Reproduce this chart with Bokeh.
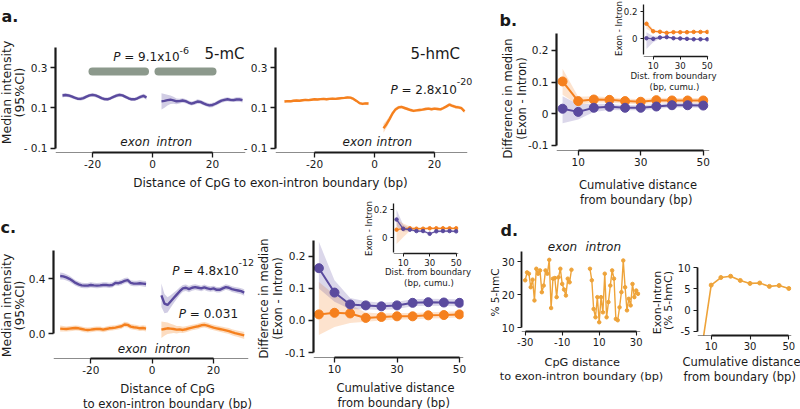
import numpy as np
from bokeh.plotting import figure
from bokeh.models import Range1d, FixedTicker, Label, Span, GridBox
from bokeh.embed import file_html
from bokeh.resources import INLINE

W, H = 800, 409
FONT = "DejaVu Sans"
PURPLE = "#5a4a9e"
ORANGE = "#f5801e"
GOLD = "#eea339"
GRAY = "#8c998c"
INK = "#1a1a1a"

# ---------------- data ----------------
# panel a: median intensity vs distance of CpG to exon-intron boundary (bp)
A_EXON_X = list(range(-30, -1))
A_INTRON_X = list(range(3, 31))
A_MC_EXON = [0.162, 0.164, 0.162, 0.157, 0.151, 0.146, 0.145, 0.149, 0.156, 0.162,
             0.165, 0.162, 0.156, 0.149, 0.144, 0.143, 0.148, 0.155, 0.161, 0.165,
             0.162, 0.155, 0.148, 0.143, 0.143, 0.148, 0.155, 0.160, 0.152]
A_MC_EXON_CI = [0.010, 0.009, 0.009, 0.009, 0.008, 0.008, 0.009, 0.009, 0.008, 0.008,
                0.009, 0.009, 0.008, 0.008, 0.009, 0.009, 0.008, 0.008, 0.009, 0.009,
                0.008, 0.008, 0.009, 0.009, 0.008, 0.009, 0.009, 0.010, 0.011]
A_MC_INTRON = [0.133, 0.135, 0.139, 0.141, 0.138, 0.133, 0.134, 0.137, 0.134, 0.127,
               0.122, 0.126, 0.132, 0.130, 0.123, 0.117, 0.113, 0.115, 0.121, 0.129,
               0.136, 0.140, 0.143, 0.140, 0.139, 0.142, 0.142, 0.139]
A_MC_INTRON_CI = [0.040, 0.034, 0.027, 0.021, 0.017, 0.014, 0.012, 0.011, 0.011, 0.010,
                  0.010, 0.010, 0.011, 0.010, 0.010, 0.010, 0.010, 0.011, 0.010, 0.010,
                  0.010, 0.011, 0.010, 0.010, 0.010, 0.011, 0.011, 0.012]
A_HMC_EXON = [0.132, 0.134, 0.133, 0.136, 0.137, 0.136, 0.138, 0.140, 0.139, 0.141,
              0.143, 0.142, 0.144, 0.145, 0.143, 0.145, 0.146, 0.145, 0.147, 0.149,
              0.150, 0.152, 0.151, 0.145, 0.135, 0.124, 0.120, 0.123, 0.122]
A_HMC_EXON_CI = [0.007, 0.006, 0.006, 0.006, 0.006, 0.006, 0.006, 0.006, 0.006, 0.006,
                 0.006, 0.006, 0.006, 0.006, 0.006, 0.006, 0.006, 0.006, 0.006, 0.006,
                 0.006, 0.006, 0.006, 0.006, 0.006, 0.007, 0.007, 0.007, 0.008]
A_HMC_INTRON = [0.000, 0.020, 0.045, 0.073, 0.093, 0.103, 0.105, 0.100, 0.095, 0.090,
                0.086, 0.088, 0.090, 0.092, 0.095, 0.097, 0.094, 0.097, 0.095, 0.093,
                0.100, 0.108, 0.117, 0.110, 0.105, 0.103, 0.099, 0.083]
A_HMC_INTRON_CI = [0.022, 0.018, 0.014, 0.011, 0.009, 0.008, 0.007, 0.007, 0.007, 0.007,
                   0.007, 0.007, 0.007, 0.007, 0.007, 0.007, 0.007, 0.007, 0.007, 0.007,
                   0.007, 0.007, 0.008, 0.008, 0.008, 0.008, 0.008, 0.009]
BAR_START = [-20, 2]
BAR_END = [-2.5, 20]
BAR_Y = [0.28, 0.28]

# panel b / c / d cumulative distance (bp)
CUM_X = [5, 10, 15, 20, 25, 30, 35, 40, 45, 50]
B_HMC = [0.102, 0.040, 0.045, 0.044, 0.040, 0.038, 0.043, 0.042, 0.042, 0.042]
B_HMC_LO = [0.060, 0.028, 0.036, 0.036, 0.032, 0.030, 0.035, 0.034, 0.034, 0.034]
B_HMC_HI = [0.142, 0.054, 0.055, 0.052, 0.048, 0.046, 0.051, 0.050, 0.050, 0.050]
B_MC = [0.016, 0.006, 0.019, 0.022, 0.019, 0.019, 0.023, 0.027, 0.027, 0.026]
B_MC_LO = [-0.030, -0.018, 0.006, 0.012, 0.011, 0.011, 0.015, 0.020, 0.020, 0.019]
B_MC_HI = [0.055, 0.030, 0.032, 0.031, 0.027, 0.027, 0.031, 0.034, 0.034, 0.033]

BI_HMC = [0.108, 0.052, 0.048, 0.040, 0.045, 0.045, 0.045, 0.047, 0.047, 0.047]
BI_HMC_LO = [0.070, 0.040, 0.040, 0.034, 0.039, 0.039, 0.039, 0.041, 0.041, 0.041]
BI_HMC_HI = [0.135, 0.065, 0.056, 0.047, 0.051, 0.051, 0.051, 0.053, 0.053, 0.053]
BI_MC = [0.000, -0.005, 0.005, 0.008, 0.000, -0.002, -0.005, -0.008, -0.008, -0.008]
BI_MC_LO = [-0.080, -0.030, -0.005, 0.000, -0.007, -0.009, -0.011, -0.014, -0.014, -0.014]
BI_MC_HI = [0.045, 0.015, 0.013, 0.015, 0.007, 0.005, 0.001, -0.002, -0.002, -0.002]

C1_MC_EXON = [0.420, 0.418, 0.410, 0.400, 0.385, 0.370, 0.360, 0.352, 0.350, 0.350,
              0.355, 0.352, 0.350, 0.352, 0.355, 0.355, 0.352, 0.355, 0.370, 0.368,
              0.375, 0.385, 0.390, 0.370, 0.365, 0.365, 0.368, 0.365, 0.362]
C1_MC_EXON_CI = [0.025, 0.024, 0.023, 0.022, 0.021, 0.020, 0.020, 0.019, 0.019, 0.019,
                 0.019, 0.019, 0.019, 0.019, 0.019, 0.019, 0.019, 0.019, 0.019, 0.019,
                 0.020, 0.020, 0.020, 0.020, 0.020, 0.020, 0.021, 0.021, 0.022]
C1_MC_INTRON = [0.280, 0.220, 0.210, 0.235, 0.260, 0.285, 0.310, 0.330, 0.335, 0.325,
                0.335, 0.340, 0.335, 0.330, 0.338, 0.330, 0.325, 0.330, 0.320, 0.320,
                0.330, 0.340, 0.335, 0.325, 0.320, 0.315, 0.310, 0.300]
C1_MC_INTRON_CI = [0.085, 0.070, 0.055, 0.045, 0.038, 0.032, 0.028, 0.025, 0.023, 0.022,
                   0.021, 0.021, 0.020, 0.020, 0.020, 0.020, 0.020, 0.020, 0.020, 0.020,
                   0.020, 0.020, 0.020, 0.021, 0.021, 0.022, 0.022, 0.024]
C1_HMC_EXON = [0.038, 0.036, 0.035, 0.038, 0.040, 0.042, 0.040, 0.035, 0.030, 0.028,
               0.030, 0.033, 0.036, 0.035, 0.030, 0.035, 0.040, 0.042, 0.045, 0.050,
               0.055, 0.068, 0.065, 0.052, 0.048, 0.045, 0.040, 0.042, 0.038]
C1_HMC_EXON_CI = [0.022, 0.020, 0.019, 0.019, 0.019, 0.018, 0.018, 0.018, 0.018, 0.018,
                  0.018, 0.018, 0.018, 0.018, 0.018, 0.018, 0.018, 0.018, 0.018, 0.018,
                  0.018, 0.019, 0.019, 0.019, 0.019, 0.019, 0.019, 0.020, 0.021]
C1_HMC_INTRON = [0.030, 0.035, 0.040, 0.038, 0.035, 0.030, 0.032, 0.028, 0.033, 0.040,
                 0.045, 0.050, 0.055, 0.062, 0.065, 0.060, 0.052, 0.045, 0.040, 0.035,
                 0.030, 0.025, 0.020, 0.012, 0.005, 0.000, -0.006, -0.012]
C1_HMC_INTRON_CI = [0.060, 0.050, 0.042, 0.035, 0.030, 0.027, 0.025, 0.023, 0.022, 0.021,
                    0.020, 0.020, 0.020, 0.020, 0.020, 0.020, 0.020, 0.020, 0.020, 0.020,
                    0.021, 0.021, 0.022, 0.022, 0.022, 0.023, 0.024, 0.025]

C2_MC = [0.163, 0.087, 0.050, 0.047, 0.044, 0.047, 0.055, 0.057, 0.056, 0.055]
C2_MC_LO = [0.100, 0.058, 0.035, 0.035, 0.033, 0.036, 0.044, 0.046, 0.045, 0.044]
C2_MC_HI = [0.245, 0.125, 0.070, 0.060, 0.055, 0.058, 0.066, 0.068, 0.067, 0.066]
C2_HMC = [0.019, 0.024, 0.022, 0.008, 0.011, 0.013, 0.013, 0.016, 0.017, 0.019]
C2_HMC_LO = [-0.045, -0.020, -0.008, -0.004, 0.000, 0.003, 0.003, 0.006, 0.007, 0.009]
C2_HMC_HI = [0.120, 0.080, 0.050, 0.025, 0.022, 0.023, 0.023, 0.026, 0.027, 0.029]

CI_MC = [0.129, 0.061, 0.055, 0.045, 0.045, 0.025, 0.043, 0.045, 0.045, 0.043]
CI_MC_LO = [0.080, 0.040, 0.045, 0.037, 0.037, 0.017, 0.035, 0.037, 0.037, 0.035]
CI_MC_HI = [0.200, 0.090, 0.065, 0.053, 0.053, 0.033, 0.051, 0.053, 0.053, 0.051]
CI_HMC = [0.055, 0.062, 0.065, 0.062, 0.062, 0.065, 0.065, 0.065, 0.065, 0.065]
CI_HMC_LO = [-0.050, 0.000, 0.045, 0.050, 0.052, 0.055, 0.055, 0.055, 0.055, 0.055]
CI_HMC_HI = [0.130, 0.100, 0.080, 0.072, 0.072, 0.075, 0.075, 0.075, 0.075, 0.075]

D1_EXON_X = list(range(-30, -4))
D1_EXON = [24.3, 26.7, 26.3, 22.2, 24.5, 18.2, 27.8, 26.3, 27.3, 20.7, 22.7, 27.3, 26.3,
           30.5, 15.9, 24.8, 25.0, 19.2, 25.2, 27.8, 23.2, 21.5, 19.7, 24.8, 23.7, 27.5]
D1_INTRON_X = list(range(5, 32))
D1_INTRON = [27.8, 24.3, 15.6, 13.1, 19.2, 11.6, 19.2, 14.6, 26.3, 13.1, 17.7, 22.7, 27.3,
             24.8, 12.6, 12.2, 16.1, 20.7, 30.3, 22.2, 15.2, 18.7, 16.7, 23.2, 19.2, 21.2, 20.2]
D2 = [-9.5, 5.9, 7.7, 8.0, 7.0, 6.3, 6.4, 5.6, 5.8, 5.1]


# ---------------- helpers ----------------
def panel(frame, xr, yr, xticks, yticks, ylabels, xb, yb,
          tsize="10.5px", aw=2.2, tout=5, tw=1.3, thin=True):
    L, R, T, B = frame
    p = figure(width=W, height=H, output_backend="svg", toolbar_location=None, title=None,
               x_range=Range1d(*xr), y_range=Range1d(*yr),
               min_border_left=L, min_border_right=W - R,
               min_border_top=T, min_border_bottom=H - B)
    p.frame_align = False
    p.background_fill_color = None
    p.border_fill_color = None
    p.outline_line_color = None
    p.xgrid.visible = False
    p.ygrid.visible = False
    xa, ya = p.xaxis[0], p.yaxis[0]
    xa.ticker = FixedTicker(ticks=list(xticks))
    ya.ticker = FixedTicker(ticks=list(yticks))
    xa.major_label_overrides = {t: str(t) for t in xticks}
    ya.major_label_overrides = dict(zip(yticks, ylabels))
    for ax in (xa, ya):
        ax.axis_line_width = aw
        ax.axis_line_color = INK
        ax.major_tick_line_width = tw
        ax.major_tick_line_color = INK
        ax.major_tick_out = tout
        ax.major_tick_in = 0
        ax.minor_tick_line_color = None
        ax.major_label_text_font = FONT
        ax.major_label_text_font_size = tsize
        ax.major_label_text_color = INK
    xa.major_label_standoff = 2
    ya.major_label_standoff = 3
    xa.bounds = xb
    ya.bounds = yb
    if thin:
        p.add_layout(Span(location=yr[0], dimension="width", line_color=INK, line_width=1))
    return p


def profile(p, x, y, ci, color, lw=2.4, alpha=0.28):
    y = np.asarray(y, dtype=float)
    ci = np.asarray(ci, dtype=float)
    p.varea(x=x, y1=y - ci, y2=y + ci, fill_color=color, fill_alpha=alpha)
    p.line(x=x, y=y, line_color=color, line_width=lw)


def cum_band(p, lo, hi, color, alpha=0.22):
    p.varea(x=CUM_X, y1=lo, y2=hi, fill_color=color, fill_alpha=alpha)


def cum_line(p, y, color, lw, size):
    p.line(x=CUM_X, y=y, line_color=color, line_width=lw)
    p.scatter(x=CUM_X, y=y, size=size, fill_color=color, line_color=color)


E = 0.0005
# ---------------- panel a ----------------
a1 = panel((55, 245, 47, 152), (-32.333, 31.0), (-0.12, 0.399),
           [-20, 0, 20], [0.3, 0.1, -0.1], ["0.3", "0.1", "- 0.1"],
           (-20.05, 20.05), (-0.1 - E, 0.399))
a1.segment(x0=BAR_START, y0=BAR_Y, x1=BAR_END, y1=BAR_Y, line_color=GRAY,
           line_width=8, line_cap="round")
profile(a1, A_EXON_X, A_MC_EXON, A_MC_EXON_CI, PURPLE)
profile(a1, A_INTRON_X, A_MC_INTRON, A_MC_INTRON_CI, PURPLE)

a2 = panel((275, 467, 47, 152), (-33.0, 31.0), (-0.12, 0.399),
           [-20, 0, 20], [0.3, 0.1, -0.1], ["0.3", "0.1", "- 0.1"],
           (-20.05, 20.05), (-0.1 - E, 0.399))
profile(a2, A_EXON_X, A_HMC_EXON, A_HMC_EXON_CI, ORANGE)
profile(a2, A_INTRON_X, A_HMC_INTRON, A_HMC_INTRON_CI, ORANGE)

# ---------------- panel b ----------------
b = panel((556, 709, 33, 150), (3.06, 52.0), (-0.1158, 0.2533),
          [10, 30, 50], [0.2, 0.1, 0, -0.1], ["0.2", "0.1", "0", "-0.1"],
          (9.95, 50.05), (-0.1 - E, 0.2533))
cum_band(b, B_HMC_LO, B_HMC_HI, ORANGE)
cum_band(b, B_MC_LO, B_MC_HI, PURPLE)
cum_line(b, B_HMC, ORANGE, 2, 9)
cum_line(b, B_MC, PURPLE, 2, 9)

bi = panel((643, 708, 4, 56), (2.81, 50.96), (-0.137, 0.2524),
           [10, 30, 50], [0.2, 0], ["0.2", "0"],
           (9.95, 50.05), (-0.12, 0.2524), tsize="8.6px", aw=1.3, tout=3, tw=1.0)
cum_band(bi, BI_HMC_LO, BI_HMC_HI, ORANGE)
cum_band(bi, BI_MC_LO, BI_MC_HI, PURPLE)
cum_line(bi, BI_HMC, ORANGE, 1.2, 3.5)
cum_line(bi, BI_MC, PURPLE, 1.2, 3.5)

# ---------------- panel c ----------------
c1 = panel((53, 248, 250, 358), (-32.18, 31.40), (-0.1796, 0.6058),
           [-20, 0, 20], [0.4, 0], ["0.4", "0.0"],
           (-20.05, 20.05), (0 - E, 0.6058))
profile(c1, A_EXON_X, C1_MC_EXON, C1_MC_EXON_CI, PURPLE)
profile(c1, A_INTRON_X, C1_MC_INTRON, C1_MC_INTRON_CI, PURPLE)
profile(c1, A_EXON_X, C1_HMC_EXON, C1_HMC_EXON_CI, ORANGE)
profile(c1, A_INTRON_X, C1_HMC_INTRON, C1_HMC_INTRON_CI, ORANGE)

c2 = panel((313, 463, 240, 357), (3.28, 51.28), (-0.1153, 0.2492),
           [10, 30, 50], [0.2, 0.1, 0, -0.1], ["0.2", "0.1", "0.0", "-0.1"],
           (9.95, 50.05), (-0.1 - E, 0.2492))
cum_band(c2, C2_HMC_LO, C2_HMC_HI, ORANGE)
cum_band(c2, C2_MC_LO, C2_MC_HI, PURPLE)
cum_line(c2, C2_HMC, ORANGE, 2, 9)
cum_line(c2, C2_MC, PURPLE, 2, 9)

ci = panel((393, 458, 203, 253), (2.68, 51.74), (-0.119, 0.246),
           [10, 30, 50], [0.2, 0], ["0.2", "0"],
           (9.95, 50.05), (-0.11, 0.246), tsize="8.6px", aw=1.3, tout=3, tw=1.0)
cum_band(ci, CI_HMC_LO, CI_HMC_HI, ORANGE)
cum_band(ci, CI_MC_LO, CI_MC_HI, PURPLE)
cum_line(ci, CI_HMC, ORANGE, 1.2, 3.5)
cum_line(ci, CI_MC, PURPLE, 1.2, 3.5)

# ---------------- panel d ----------------
d1 = panel((521, 640, 251, 331), (-32.0, 32.32), (8.79, 33.03),
           [-30, -10, 10, 30], [10, 20, 30], ["10", "20", "30"],
           (-30.05, 30.05), (10 - 0.02, 33.03), tsize="10px", aw=1.8, tout=4, tw=1.1)
for xs, ys in ((D1_EXON_X, D1_EXON), (D1_INTRON_X, D1_INTRON)):
    d1.line(x=xs, y=ys, line_color=GOLD, line_width=1.4)
    d1.scatter(x=xs, y=ys, size=3.5, fill_color=GOLD, line_color=GOLD)

d2 = panel((697, 791, 265, 335), (2.94, 51.39), (-6.02, 10.54),
           [10, 30, 50], [10, 5, 0, -5], ["10", "5", "0", "-5"],
           (9.95, 50.05), (-5 - 0.02, 10 + 0.02), tsize="10px", aw=1.8, tout=4, tw=1.1)
d2.line(x=CUM_X, y=D2, line_color=GOLD, line_width=1.6)
d2.scatter(x=CUM_X, y=D2, size=4, fill_color=GOLD, line_color=GOLD)

# ---------------- text layer ----------------
ann = figure(width=W, height=H, output_backend="svg", toolbar_location=None, title=None,
             x_range=Range1d(0, W), y_range=Range1d(H, 0),
             x_axis_location=None, y_axis_location=None, min_border=0)
ann.frame_align = False
ann.background_fill_color = None
ann.border_fill_color = None
ann.outline_line_color = None
ann.xgrid.visible = False
ann.ygrid.visible = False


def txt(x, y, s, size="12px", align="center", base="middle", angle=0.0, style="normal"):
    ann.add_layout(Label(x=x, y=y, text=s, text_font=FONT, text_font_size=size,
                         text_align=align, text_baseline=base, angle=angle,
                         text_font_style=style, text_color=INK))


V = np.pi / 2
for s, x, y in (("a.", 1, 15.5), ("b.", 499, 20), ("c.", 0, 226.5), ("d.", 500, 230)):
    txt(x, y, s, size="16px", align="left", base="alphabetic", style="bold")

# P-values
for x, y, rest, sup, sy in ((112.7, 56, "= 9.1x10", "-6", 50),
                            (390.0, 89.7, "= 2.8x10", "-20", 81),
                            (171.7, 270, "= 4.8x10", "-12", 262)):
    txt(x, y, "P", align="left", style="italic")
    txt(x + 11, y, rest, align="left")
    txt(x + 66.3, sy, sup, size="9.5px", align="left")
txt(178.3, 313.3, "P", align="left", style="italic")
txt(189.3, 313.3, "= 0.031", align="left")

txt(204, 53.5, "5-mC", size="15px", align="left")
txt(410, 53.5, "5-hmC", size="15px", align="left")

for xe, xi, y in ((149.3, 156, 141), (371.5, 376, 141.5), (146.7, 154.3, 348.5), (576.7, 585, 246.7)):
    txt(xe, y, "exon", align="right", style="italic")
    txt(xi, y, "intron", align="left", style="italic")

# axis titles
for yc in (92, 305):
    txt(5.5, yc, "Median intensity", size="12.5px", angle=V)
    txt(18.5, yc, "(95%CI)", size="12.5px", angle=V)
txt(270, 182.5, "Distance of CpG to exon-intron boundary (bp)", size="12px")
txt(167, 388, "Distance of CpG", size="11.7px")
txt(167, 403, "to exon-intron boundary (bp)", size="11.7px")

for xa_, xb_, yc in ((507, 521.5, 98), (263.5, 277, 298)):
    txt(xa_, yc, "Difference in median", size="11.5px", angle=V)
    txt(xb_, yc, "(Exon - Intron)", size="11.5px", angle=V)
for xc, y1 in ((637.5, 184), (395, 387.5), (741, 361.7)):
    txt(xc, y1, "Cumulative distance", size="11.5px")
    txt(xc, y1 + 15, "from boundary  (bp)", size="11.5px")

for xl, yl, xc, y1 in ((618.3, 28, 673, 75.3), (368, 228, 427.5, 271)):
    txt(xl, yl, "Exon - Intron", size="8.6px", angle=V)
    txt(xc, y1, "Dist. from boundary", size="8.6px")
    txt(xc + 1, y1 + 11, "(bp, cumu.)", size="8.6px")

txt(494, 292, "% 5-hmC", size="10.5px", angle=V)
txt(581.7, 361.7, "CpG distance", size="11.3px")
txt(581, 376, "to exon-intron boundary (bp)", size="11.3px")
txt(656.7, 302, "Exon-Intron", size="11px", angle=V)
txt(667.5, 300, "(% 5-hmC)", size="11px", angle=V)

figs = [a1, a2, b, bi, c1, c2, ci, d1, d2, ann]
root = GridBox(children=[(f, 0, 0) for f in figs])

open("out.html", "w").write(file_html(root, INLINE))
